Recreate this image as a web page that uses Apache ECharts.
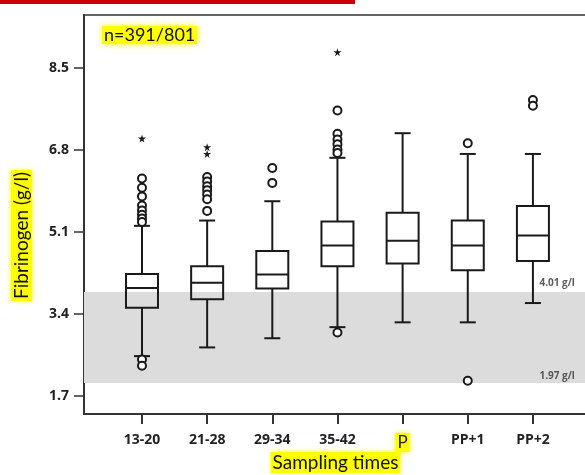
<!DOCTYPE html>
<html>
<head>
<meta charset="utf-8">
<script src="https://cdn.jsdelivr.net/npm/echarts@6/dist/echarts.min.js"></script>
<style>html,body{margin:0;padding:0;background:#fff}#c{width:585px;height:475px}</style>
</head>
<body>
<div id="c"></div>
<script>
// ---- data ----
const categories = ['13-20', '21-28', '29-34', '35-42', 'P', 'PP+1', 'PP+2'];
const lowerWhisker = [2.53, 2.71, 2.90, 3.13, 3.23, 3.23, 3.63];
const q1 = [3.53, 3.71, 3.93, 4.39, 4.45, 4.31, 4.50];
const median = [3.94, 4.05, 4.22, 4.82, 4.92, 4.82, 5.03];
const q3 = [4.23, 4.39, 4.71, 5.32, 5.50, 5.34, 5.64];
const upperWhisker = [5.23, 5.34, 5.74, 6.64, 7.15, 6.72, 6.72];
const outlierValues = [
  [6.21, 6.02, 5.84, 5.65, 5.55, 5.46, 5.38, 5.31, 2.46, 2.33],
  [6.24, 6.15, 6.05, 5.97, 5.88, 5.78, 5.54],
  [6.43, 6.12],
  [7.62, 7.14, 7.02, 6.92, 6.81, 6.74, 3.02],
  [],
  [6.94, 2.02],
  [7.84, 7.72]
];
const extremeValues = [[7.04], [6.86, 6.72], [], [8.83], [], [], []];
const yTicks = [1.7, 3.4, 5.1, 6.8, 8.5];
const bandLow = 1.97;
const bandHigh = 3.86;
const bandLabels = [['4.01 g/l', 4.04], ['1.97 g/l', 2.11]];
const sampleText = 'n=391/801';
const yName = 'Fibrinogen (g/l)';
const xName = 'Sampling times';

// ---- build ----
const boxData = categories.map((c, i) => [i, lowerWhisker[i], q1[i], median[i], q3[i], upperWhisker[i]]);
const outlierData = [];
outlierValues.forEach((arr, i) => arr.forEach(v => outlierData.push([i, v])));
const extremeData = [];
extremeValues.forEach((arr, i) => arr.forEach(v => extremeData.push([i, v])));
const bandLabelData = bandLabels.map(b => ({ value: [6.1, b[1]], label: { formatter: b[0] } }));

const STAR = 'path://M50,0 L61,35 L98,35 L68,57 L79,91 L50,70 L21,91 L32,57 L2,35 L39,35 Z';
const hl = { backgroundColor: '#ffff00', shadowColor: '#ffff00', shadowBlur: 5, padding: [1, 2] };
const FONT = 'Open Sans';

const chart = echarts.init(document.getElementById('c'), null, { renderer: 'canvas' });
chart.setOption({
  animation: false,
  backgroundColor: '#fff',
  title: {
    text: sampleText, left: 102, top: 26, padding: [0, 2],
    backgroundColor: '#ffff00', shadowColor: '#ffff00', shadowBlur: 6,
    textStyle: { fontFamily: 'Lato', fontSize: 18, fontWeight: 'normal', color: '#111' }
  },
  graphic: [
    { type: 'rect', left: 0, top: 0, shape: { width: 355, height: 4 }, style: { fill: '#cc0000' } }
  ],
  grid: {
    left: 84, top: 15, right: -2, bottom: 61, show: true, borderColor: '#333', borderWidth: 1.5,
    containLabel: false, outerBoundsMode: 'none'
  },
  xAxis: {
    type: 'value', min: -0.89, max: 6.83,
    splitLine: { show: false },
    axisLine: { onZero: false, lineStyle: { color: '#333', width: 2 } },
    axisTick: { customValues: [0, 1, 2, 3, 4, 5, 6], length: 10, lineStyle: { color: '#333', width: 2 } },
    axisLabel: {
      customValues: [0, 1, 2, 3, 4, 5, 6], margin: 19,
      formatter: v => categories[Math.round(v)] === 'P' ? '{h|P}' : '{n|' + categories[Math.round(v)] + '}',
      rich: {
        n: { fontFamily: FONT, fontSize: 14, fontWeight: 'bold', color: '#222' },
        h: Object.assign({ fontFamily: 'Lato', fontSize: 17, fontWeight: 'normal', color: '#222' }, hl)
      }
    },
    name: '{h|' + xName + '}', nameLocation: 'middle', nameGap: 38, nameMoveOverlap: false,
    nameTextStyle: {
      rich: { h: Object.assign({ fontFamily: 'Lato', fontSize: 19, color: '#111' }, hl) }
    }
  },
  yAxis: {
    type: 'value', min: 1.33, max: 9.6,
    splitLine: { show: false },
    axisLine: { show: true, onZero: false, lineStyle: { color: '#333', width: 2 } },
    axisTick: { show: true, customValues: yTicks, length: 10, lineStyle: { color: '#333', width: 1.5 } },
    axisLabel: {
      customValues: yTicks, margin: 15,
      formatter: v => v.toFixed(1),
      fontFamily: FONT, fontSize: 14, fontWeight: 'bold', color: '#222'
    },
    name: '{h|' + yName + '}', nameLocation: 'middle', nameRotate: 90, nameGap: 52, nameMoveOverlap: false,
    nameTextStyle: {
      padding: [0, 42, 0, 0],
      rich: { h: Object.assign({ fontFamily: 'Lato', fontSize: 19, color: '#111' }, hl) }
    }
  },
  series: [
    {
      type: 'scatter', data: bandLabelData, symbolSize: 0, z: 1, silent: true,
      label: { show: true, position: 'right', distance: 0, fontFamily: FONT, fontSize: 10, fontWeight: 'bold', color: '#333' },
      markArea: {
        silent: true,
        itemStyle: { color: '#dcdcdc' },
        data: [[{ yAxis: bandLow }, { yAxis: bandHigh }]]
      }
    },
    {
      type: 'custom', z: 3, data: boxData,
      renderItem: function (params, api) {
        const x = api.value(0);
        const pLow = api.coord([x, api.value(1)]);
        const pQ1 = api.coord([x, api.value(2)]);
        const pMed = api.coord([x, api.value(3)]);
        const pQ3 = api.coord([x, api.value(4)]);
        const pHigh = api.coord([x, api.value(5)]);
        const cx = pMed[0], hw = 16, cw = 8;
        const st = { stroke: '#1a1a1a', lineWidth: 2, fill: null };
        return {
          type: 'group',
          children: [
            { type: 'line', shape: { x1: cx, y1: pHigh[1], x2: cx, y2: pQ3[1] }, style: st },
            { type: 'line', shape: { x1: cx, y1: pQ1[1], x2: cx, y2: pLow[1] }, style: st },
            { type: 'line', shape: { x1: cx - cw, y1: pHigh[1], x2: cx + cw, y2: pHigh[1] }, style: st },
            { type: 'line', shape: { x1: cx - cw, y1: pLow[1], x2: cx + cw, y2: pLow[1] }, style: st },
            { type: 'rect', shape: { x: cx - hw, y: pQ3[1], width: hw * 2, height: pQ1[1] - pQ3[1] }, style: st },
            { type: 'line', shape: { x1: cx - hw, y1: pMed[1], x2: cx + hw, y2: pMed[1] }, style: st }
          ]
        };
      }
    },
    {
      type: 'scatter', data: outlierData, z: 4, symbol: 'circle', symbolSize: 8,
      itemStyle: { color: '#fff', borderColor: '#1a1a1a', borderWidth: 2, opacity: 1 }
    },
    {
      type: 'scatter', data: extremeData, z: 4, symbol: STAR, symbolSize: 8,
      itemStyle: { color: '#1a1a1a', opacity: 1 }
    }
  ]
});
</script>
</body>
</html>
